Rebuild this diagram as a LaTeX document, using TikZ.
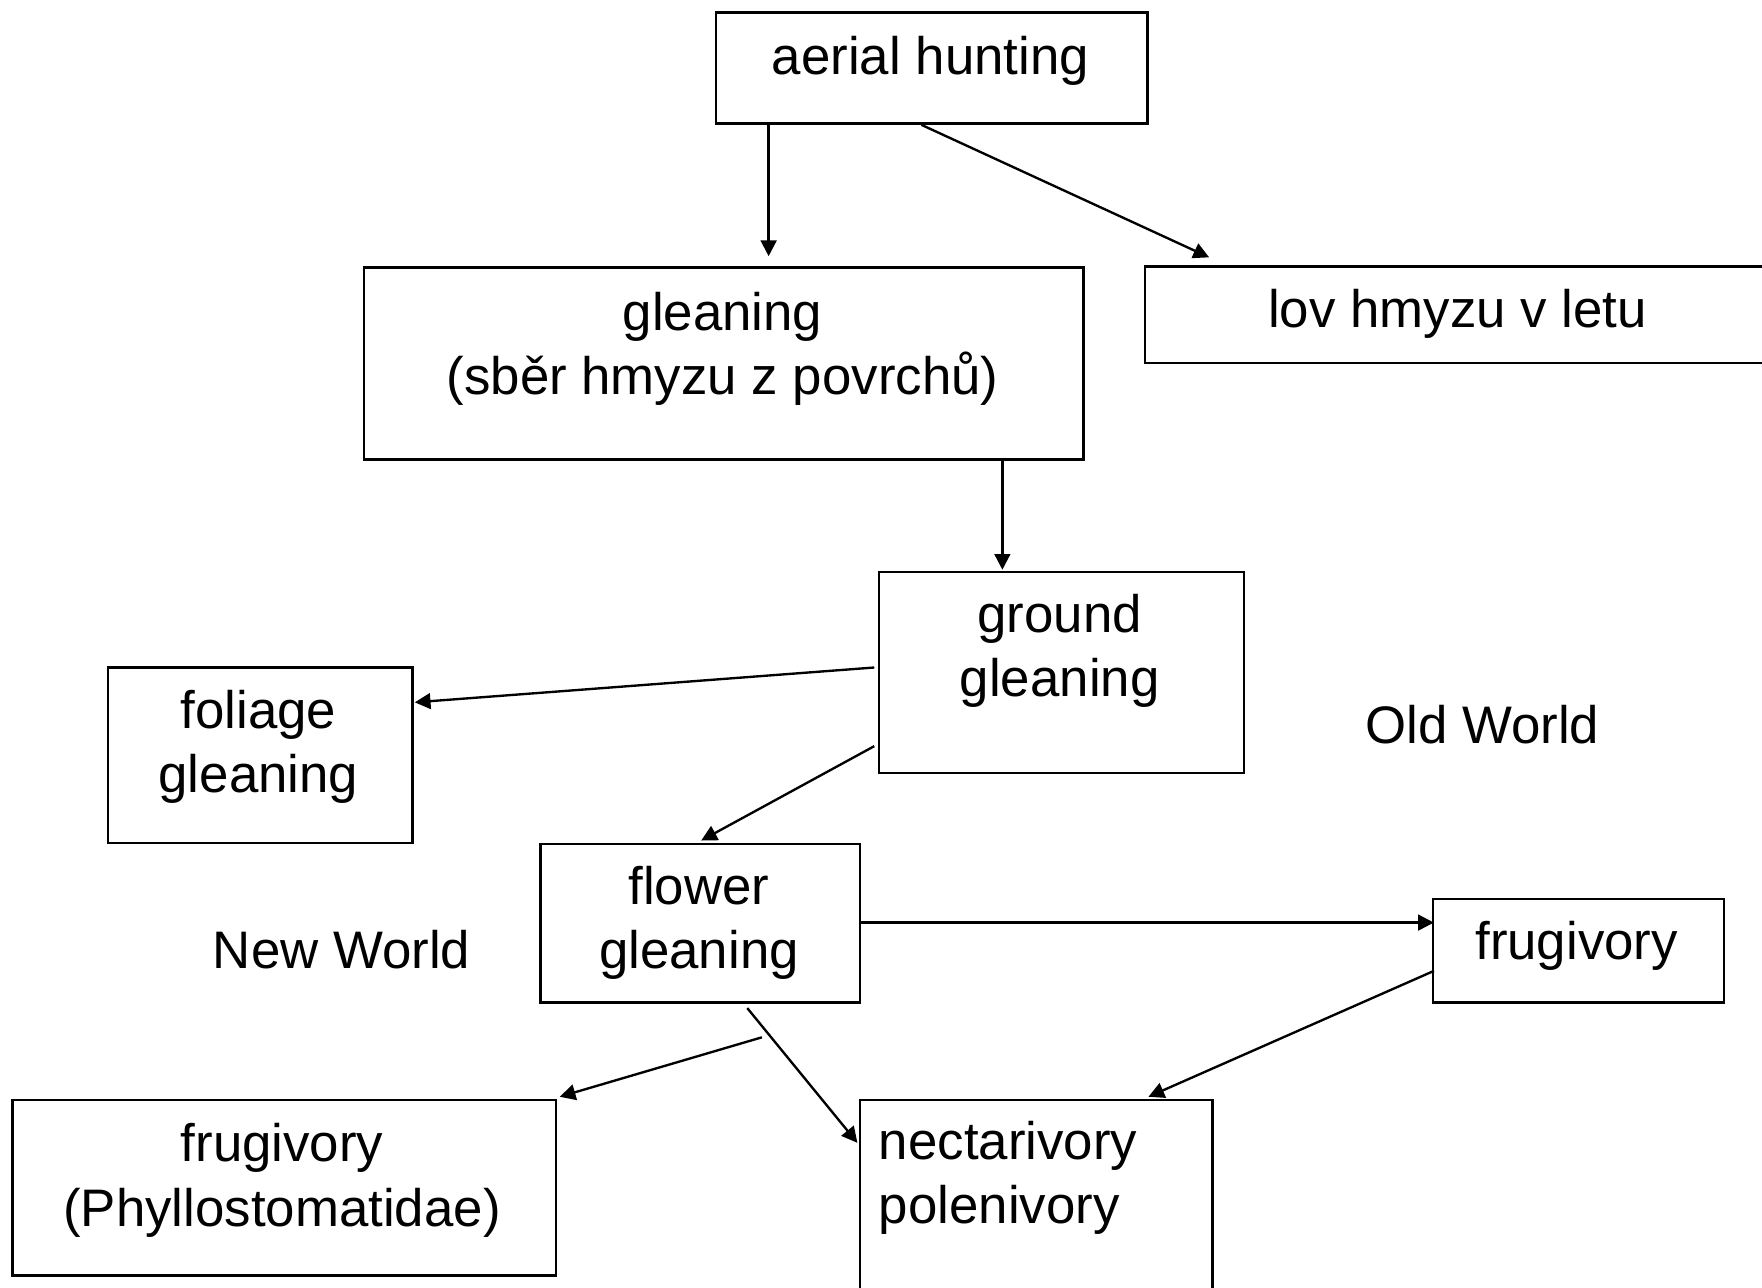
\documentclass[tikz,border=0pt]{standalone}
\usepackage{fontspec}
\setmainfont{Liberation Sans}
\usetikzlibrary{arrows.meta,calc}
\tikzset{
  box/.style={draw=black, line width=2.1pt, rectangle, inner sep=0pt, anchor=north west},
  txt/.style={inner sep=0pt, align=center, anchor=base, font=\fontsize{47}{57}\selectfont},
  conn/.style={line width=2.1pt, -{Triangle[length=14pt,width=14pt]}}
}
\begin{document}
\begin{tikzpicture}[x=1pt,y=-1pt]
\useasboundingbox[fill=white] (0,0) rectangle (1568,1146);
% boxes
\node[box, minimum width=384pt, minimum height=99pt] (aerial) at (636,10) {};
\node[box, minimum width=640pt, minimum height=171pt] (gleaning) at (323,237) {};
\node[box, minimum width=570pt, minimum height=86pt] (lov) at (1018,236) {};
\node[box, minimum width=325pt, minimum height=179pt] (ground) at (781,508) {};
\node[box, minimum width=271pt, minimum height=156pt] (foliage) at (95,593) {};
\node[box, minimum width=284pt, minimum height=141pt] (flower) at (480,750) {};
\node[box, minimum width=259pt, minimum height=92pt] (frugR) at (1274,799) {};
\node[box, minimum width=484pt, minimum height=156pt] (frugL) at (10,978) {};
\node[box, minimum width=314pt, minimum height=200pt] (nectar) at (764,978) {};
% texts (anchor base = baseline of last line)
\node[txt] (aerialT) at (828,66) {aerial hunting};
\node[txt] (gleaningT) at (643,351) {gleaning\\(sběr hmyzu z povrchů)};
\node[txt] (lovT) at (1297,291) {lov hmyzu v letu};
\node[txt] (groundT) at (943,620) {ground\\gleaning};
\node[txt] (foliageT) at (230,705) {foliage\\gleaning};
\node[txt] (oldT) at (1319,662) {Old World};
\node[txt] (flowerT) at (622,862) {flower\\gleaning};
\node[txt] (newT) at (304,862) {New World};
\node[txt] (frugRT) at (1403,854) {frugivory};
\node[txt] (frugLT) at (251,1091) {frugivory\\(Phyllostomatidae)};
\node[txt, align=left, anchor=base west] (nectarT) at (782,1089) {nectarivory\\polenivory};
% connectors
\draw[conn] ($(aerial.south west)+(48,0)$) -- ($(gleaning.north west)+(361,-9)$);
\draw[conn] ($(aerial.south west)+(184,0)$) -- ($(lov.north west)+(58,-7)$);
\draw[conn] ($(gleaning.south west)+(569,0)$) -- ($(ground.north west)+(111,-1)$);
\draw[conn] ($(ground.north west)+(-3,86)$) -- ($(foliage.north east)+(1,32)$);
\draw[conn] ($(ground.north west)+(-3,156)$) -- ($(flower.north west)+(144,-2)$);
\draw[conn] ($(flower.north east)+(0,71)$) -- ($(frugR.north west)+(2,22)$);
\draw[conn] ($(flower.south west)+(198,30)$) -- ($(frugL.north east)+(2,-2)$);
\draw[conn] ($(flower.south west)+(185,4)$) -- ($(nectar.north west)+(-1,39)$);
\draw[conn] ($(frugR.north west)+(2,65)$) -- ($(nectar.north west)+(258,-2)$);
\end{tikzpicture}
\end{document}
